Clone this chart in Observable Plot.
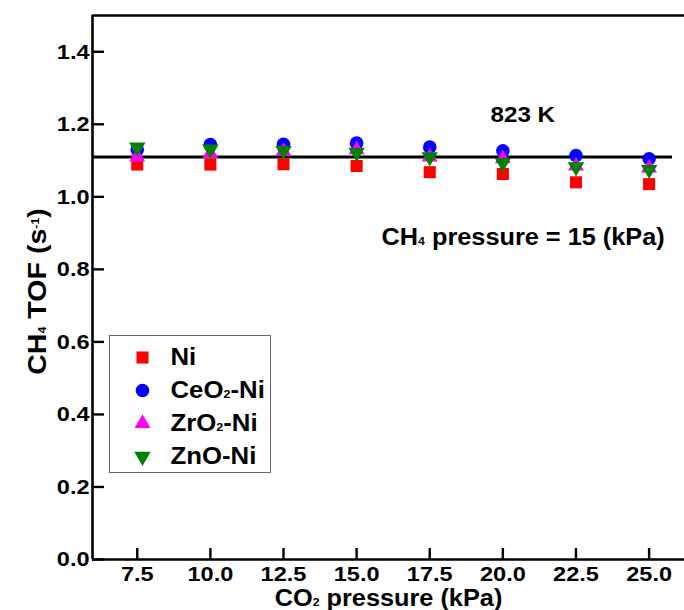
<!DOCTYPE html>
<html><head><meta charset="utf-8">
<script src="https://cdn.jsdelivr.net/npm/d3@7"></script>
<script src="https://cdn.jsdelivr.net/npm/@observablehq/plot@0.6"></script>
<style>
body{margin:0;background:#fff;}
#wrap{position:relative;width:684px;height:610px;overflow:hidden;font-family:"Liberation Sans",Arial,sans-serif;}
#legend{position:absolute;left:109px;top:335px;width:160px;height:136px;border:1px solid #666;background:#fff;}
</style></head><body><div id="wrap"><div id="legend"></div></div>
<script>
// ---- data ----
const pressures = [7.5, 10, 12.5, 15, 17.5, 20, 22.5, 25];
const tofNi   = [1.089, 1.089, 1.090, 1.085, 1.068, 1.063, 1.040, 1.035];
const tofCeO2 = [1.130, 1.144, 1.145, 1.148, 1.137, 1.127, 1.114, 1.105];
const tofZrO2 = [1.110, 1.120, 1.125, 1.130, 1.110, 1.105, 1.085, 1.080];
const tofZnO  = [1.137, 1.131, 1.127, 1.122, 1.110, 1.094, 1.082, 1.075];
const seriesNames = ["Ni", "CeO_2-Ni", "ZrO_2-Ni", "ZnO-Ni"];
const xTicks = [7.5, 10, 12.5, 15, 17.5, 20, 22.5, 25];
const yTicks = [0, 0.2, 0.4, 0.6, 0.8, 1.0, 1.2, 1.4];
const fitValue = 1.11;
const fitRange = [5.97, 25.8];
const xDomain = [5.97, 26.21];
const yDomain = [0, 1.5];
const xLabel = "CO_2 pressure (kPa)";
const yLabel = "CH_4 TOF (s^{-1})";
const tempLabel = "823 K";
const ch4Label = "CH_4 pressure = 15 (kPa)";

// ---- styles ----
const styles = {
  "Ni":       {symbol: "square",   fill: "#ff0000", r: 6.8, rotate: 0},
  "CeO_2-Ni": {symbol: "circle",   fill: "#0000ff", r: 6.8, rotate: 0},
  "ZrO_2-Ni": {symbol: "triangle", fill: "#ff00ff", r: 5.9, rotate: 0},
  "ZnO-Ni":   {symbol: "triangle", fill: "#008000", r: 6.1, rotate: 180}
};
const seriesValues = [tofNi, tofCeO2, tofZrO2, tofZnO];
const rows = seriesNames.map((name, i) => pressures.map((p, j) => ({series: name, x: p, y: seriesValues[i][j]})));

const W = 684, H = 610, ML = 92, MR = 0, MT = 15, MB = 51;
const FONT = '"Liberation Sans", Arial, sans-serif';
const STRETCH = 1.12;             // reference glyphs are wider than Arial
const stretchFor = {[yLabel]: 1.1, [xLabel]: 1.1, [ch4Label]: 1.1, [tempLabel]: 1.1};

function richify(root) {
  root.querySelectorAll("text").forEach(t => {
    const s = t.textContent;
    t.dataset.raw = s;
    if (!/[_^]/.test(s)) return;
    const fs = parseFloat(getComputedStyle(t).fontSize) || 16;
    t.textContent = "";
    const re = /([_^])(\{[^}]*\}|.)/g;
    let last = 0, m, pending = 0;
    const add = (txt, kind) => {
      const ts = document.createElementNS("http://www.w3.org/2000/svg", "tspan");
      ts.textContent = txt;
      let dy = pending; pending = 0;
      if (kind) {
        ts.setAttribute("font-size", (fs * 0.7) + "px");
        if (kind === "^") { dy += -fs * 0.42; pending = fs * 0.42; }
        else { dy += fs * 0.03; pending = -fs * 0.03; }
      }
      if (dy) ts.setAttribute("dy", dy);
      t.appendChild(ts);
    };
    while ((m = re.exec(s))) {
      if (m.index > last) add(s.slice(last, m.index));
      let v = m[2]; if (v[0] === "{") v = v.slice(1, -1);
      add(v, m[1]);
      last = re.lastIndex;
    }
    if (last < s.length) add(s.slice(last));
  });
}
function stretch(root) {
  root.querySelectorAll("text").forEach(t => {
    const f = stretchFor[t.dataset.raw] ?? STRETCH;
    const L = t.getComputedTextLength();
    if (L > 0) {
      t.setAttribute("textLength", (L * f).toFixed(2));
      t.setAttribute("lengthAdjust", "spacingAndGlyphs");
    }
  });
}

const frameW = W - ML - MR, frameH = H - MT - MB;

const chart = Plot.plot({
  width: W, height: H,
  marginLeft: ML, marginRight: MR, marginTop: MT, marginBottom: MB,
  style: {fontFamily: FONT, fontWeight: "bold", color: "#000", background: "#fff", overflow: "visible"},
  x: {domain: xDomain},
  y: {domain: yDomain},
  marks: [
    Plot.ruleY([yDomain[0]], {stroke: "#000", strokeWidth: 2.6}),
    Plot.ruleY([yDomain[1]], {stroke: "#000", strokeWidth: 2.6}),
    Plot.ruleX([xDomain[0]], {stroke: "#000", strokeWidth: 2.6}),
    Plot.tickY(yTicks, {y: d => d, insetRight: frameW - 12, stroke: "#000", strokeWidth: 2.4}),
    Plot.tickX(xTicks, {x: d => d, insetTop: frameH - 11, stroke: "#000", strokeWidth: 2.4}),
    Plot.axisY({ticks: yTicks, tickSize: 0, tickPadding: 3, tickFormat: d3.format(".1f"), fontSize: 21, label: null}),
    Plot.axisX({ticks: xTicks, tickSize: 0, tickPadding: 7, tickFormat: d3.format(".1f"), fontSize: 21, label: null}),
    Plot.ruleY([fitValue], {x1: fitRange[0], x2: fitRange[1], stroke: "#000", strokeWidth: 3}),
    ...rows.map((data, i) => {
      const st = styles[seriesNames[i]];
      return Plot.dot(data, {x: "x", y: "y", symbol: st.symbol, fill: st.fill, r: st.r, rotate: st.rotate, stroke: "none"});
    }),
    Plot.text([xLabel], {frameAnchor: "bottom", dy: 46, textAnchor: "middle", lineAnchor: "bottom", fontSize: 23, text: d => d}),
    Plot.text([yLabel], {frameAnchor: "left", dx: -55, dy: 4, rotate: -90, textAnchor: "middle", lineAnchor: "middle", fontSize: 26, text: d => d}),
    Plot.text([tempLabel], {frameAnchor: "top-left", dx: 398, dy: 99, textAnchor: "start", lineAnchor: "middle", fontSize: 22, text: d => d}),
    Plot.text([ch4Label], {frameAnchor: "top-left", dx: 289, dy: 222, textAnchor: "start", lineAnchor: "middle", fontSize: 23, text: d => d})
  ]
});
richify(chart);
document.getElementById("wrap").insertBefore(chart, document.getElementById("legend"));
stretch(chart);

const legend = Plot.plot({
  width: 160, height: 136, margin: 0,
  style: {fontFamily: FONT, fontWeight: "bold", color: "#000", background: "transparent"},
  y: {type: "point", domain: seriesNames, range: [20, 120], padding: 0, axis: null},
  marks: [
    ...seriesNames.map(name => {
      const st = styles[name];
      return Plot.dot([name], {y: d => d, frameAnchor: "left", dx: 32, symbol: st.symbol, fill: st.fill, r: st.r, rotate: st.rotate, stroke: "none"});
    }),
    Plot.text(seriesNames, {y: d => d, text: d => d, frameAnchor: "left", dx: 60, textAnchor: "start", fontSize: 23})
  ]
});
richify(legend);
document.getElementById("legend").appendChild(legend);
stretch(legend);
</script>
</body></html>
